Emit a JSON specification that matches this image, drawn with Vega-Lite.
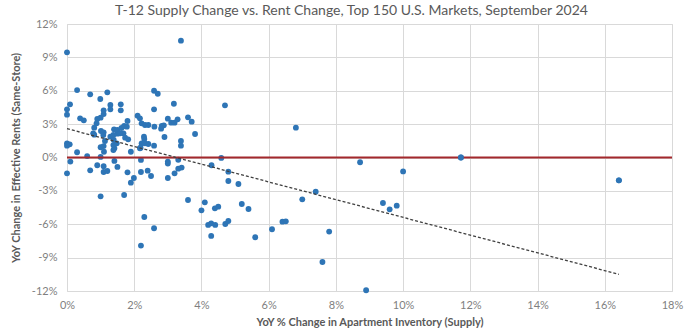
{
  "$schema": "https://vega.github.io/schema/vega-lite/v6.json",
  "autosize": "none",
  "width": 605,
  "height": 267,
  "padding": {"left": 67, "top": 24, "right": 28, "bottom": 40},
  "background": "white",
  "title": {
    "text": "T-12 Supply Change vs. Rent Change, Top 150 U.S. Markets, September 2024",
    "font": "Lato",
    "fontSize": 14,
    "fontWeight": "normal",
    "color": "#595959",
    "anchor": "middle",
    "dx": -18,
    "offset": 0
  },
  "config": {
    "view": {"stroke": "#d9d9d9"},
    "axis": {
      "labelFont": "Lato",
      "labelFontSize": 11,
      "labelColor": "#7f7f7f",
      "labelOverlap": false,
      "labelFlush": false,
      "titleFont": "Lato",
      "titleFontSize": 11,
      "titleFontWeight": "bold",
      "titleColor": "#595959",
      "gridColor": "#d9d9d9",
      "gridWidth": 1,
      "domain": false,
      "ticks": false
    },
    "axisY": {"labelOverlap": false, "labelPadding": 10, "titlePadding": 10},
    "axisX": {"labelOverlap": false, "labelPadding": 8, "titlePadding": 6}
  },
  "datasets": {
    "pts": [
      {"supply": 0, "rent": 9.45}, {"supply": 0, "rent": 4.33}, {"supply": 0.09, "rent": 4.78}, {"supply": 0, "rent": 3.85},
      {"supply": 0, "rent": 1.27}, {"supply": 0.08, "rent": 1.18}, {"supply": 0, "rent": 1.06}, {"supply": 0.1, "rent": -0.37},
      {"supply": 0, "rent": -1.42},
      {"supply": 0.3, "rent": 6.06}, {"supply": 0.69, "rent": 5.68}, {"supply": 0.99, "rent": 5.26}, {"supply": 1.2, "rent": 5.86},
      {"supply": 0.39, "rent": 3.52}, {"supply": 0.5, "rent": 3.34}, {"supply": 0.3, "rent": 0.47}, {"supply": 0.6, "rent": 0.13},
      {"supply": 0.69, "rent": -1.15}, {"supply": 0.9, "rent": -0.7}, {"supply": 0.88, "rent": 3.07}, {"supply": 0.81, "rent": 2.68},
      {"supply": 0.9, "rent": 3.46}, {"supply": 1.0, "rent": 3.58}, {"supply": 1.09, "rent": 3.9}, {"supply": 0.78, "rent": 2.17},
      {"supply": 0.81, "rent": 2.05}, {"supply": 1.0, "rent": 0.92}, {"supply": 1.09, "rent": 1.03}, {"supply": 1.1, "rent": 0.52},
      {"supply": 1.0, "rent": 0.05}, {"supply": 1.0, "rent": -3.49},
      {"supply": 1.09, "rent": 4.24}, {"supply": 1.29, "rent": 4.72}, {"supply": 1.29, "rent": 4.33}, {"supply": 1.6, "rent": 4.78},
      {"supply": 1.6, "rent": 4.24}, {"supply": 1.01, "rent": 2.38}, {"supply": 1.09, "rent": 2.26}, {"supply": 1.08, "rent": 2.02},
      {"supply": 1.29, "rent": 1.87}, {"supply": 1.4, "rent": 2.53}, {"supply": 1.5, "rent": 2.14}, {"supply": 1.5, "rent": 2.47},
      {"supply": 1.68, "rent": 2.17}, {"supply": 1.62, "rent": 2.65}, {"supply": 1.7, "rent": 2.83}, {"supply": 1.8, "rent": 3.28},
      {"supply": 1.73, "rent": 1.78}, {"supply": 1.82, "rent": 1.63}, {"supply": 1.39, "rent": 1.57}, {"supply": 1.48, "rent": 1.27},
      {"supply": 1.41, "rent": 0.83}, {"supply": 1.9, "rent": 0.52}, {"supply": 1.09, "rent": -0.79}, {"supply": 1.09, "rent": -1.3},
      {"supply": 1.2, "rent": -1.21}, {"supply": 1.41, "rent": -0.31}, {"supply": 1.5, "rent": -0.85}, {"supply": 1.7, "rent": -3.37},
      {"supply": 1.8, "rent": -1.33}, {"supply": 1.99, "rent": -1.84}, {"supply": 1.9, "rent": -2.26},
      {"supply": 1.13, "rent": 1.48}, {"supply": 1.38, "rent": 1.12}, {"supply": 1.38, "rent": 2.02}, {"supply": 1.58, "rent": 2.17},
      {"supply": 1.78, "rent": 2.77}, {"supply": 1.38, "rent": 0.67}, {"supply": 2.17, "rent": 0.83}, {"supply": 2.22, "rent": 1.27},
      {"supply": 2.1, "rent": 3.76}, {"supply": 2.17, "rent": 3.52}, {"supply": 2.22, "rent": 3.07}, {"supply": 2.32, "rent": 2.92},
      {"supply": 2.42, "rent": 2.92}, {"supply": 2.59, "rent": 6.0}, {"supply": 2.7, "rent": 5.73}, {"supply": 2.59, "rent": 4.33},
      {"supply": 2.6, "rent": 2.77}, {"supply": 2.82, "rent": 2.83}, {"supply": 2.88, "rent": 2.89}, {"supply": 2.8, "rent": 2.59},
      {"supply": 3.0, "rent": 3.49}, {"supply": 3.18, "rent": 4.83}, {"supply": 3.1, "rent": 3.13}, {"supply": 3.2, "rent": 3.13},
      {"supply": 3.29, "rent": 3.43}, {"supply": 2.9, "rent": 1.84}, {"supply": 2.29, "rent": 1.87}, {"supply": 2.3, "rent": 1.66},
      {"supply": 2.32, "rent": 1.27}, {"supply": 2.42, "rent": 1.21}, {"supply": 2.59, "rent": 1.06}, {"supply": 2.19, "rent": 0.88},
      {"supply": 3.39, "rent": 1.48}, {"supply": 3.39, "rent": 1.06}, {"supply": 3.6, "rent": 3.61}, {"supply": 3.71, "rent": 3.22},
      {"supply": 3.81, "rent": 2.11}, {"supply": 2.2, "rent": -0.22}, {"supply": 2.2, "rent": -1.3}, {"supply": 2.4, "rent": -1.18},
      {"supply": 2.5, "rent": -1.66}, {"supply": 2.2, "rent": -7.92}, {"supply": 2.3, "rent": -5.35}, {"supply": 2.59, "rent": -6.36},
      {"supply": 3.0, "rent": -1.84}, {"supply": 3.0, "rent": -0.37}, {"supply": 3.0, "rent": -0.55}, {"supply": 3.2, "rent": -1.42},
      {"supply": 3.31, "rent": -1.0}, {"supply": 3.41, "rent": -0.91}, {"supply": 3.31, "rent": -0.2}, {"supply": 3.6, "rent": -3.82},
      {"supply": 4.0, "rent": -4.75}, {"supply": 4.1, "rent": -4.03}, {"supply": 4.2, "rent": -6.06}, {"supply": 4.29, "rent": -5.92},
      {"supply": 4.41, "rent": -6.06}, {"supply": 4.29, "rent": -7.05}, {"supply": 4.4, "rent": -4.57}, {"supply": 4.5, "rent": -4.42},
      {"supply": 4.71, "rent": -5.98}, {"supply": 4.8, "rent": -5.71}, {"supply": 4.8, "rent": -2.11}, {"supply": 4.8, "rent": -1.27},
      {"supply": 5.1, "rent": -2.38}, {"supply": 5.2, "rent": -4.18}, {"supply": 5.4, "rent": -4.63}, {"supply": 5.6, "rent": -7.17},
      {"supply": 6.1, "rent": -6.45}, {"supply": 6.41, "rent": -5.77}, {"supply": 6.51, "rent": -5.74}, {"supply": 7.0, "rent": -3.76},
      {"supply": 7.4, "rent": -3.07}, {"supply": 7.8, "rent": -6.66}, {"supply": 7.6, "rent": -9.39}, {"supply": 4.3, "rent": -0.7},
      {"supply": 4.59, "rent": -0.04}, {"supply": 4.7, "rent": 4.69}, {"supply": 6.81, "rent": 2.68}, {"supply": 3.39, "rent": 10.5},
      {"supply": 8.72, "rent": -0.43}, {"supply": 11.72, "rent": 0}, {"supply": 10.0, "rent": -1.25}, {"supply": 16.42, "rent": -2.05},
      {"supply": 9.4, "rent": -4.09}, {"supply": 9.6, "rent": -4.66}, {"supply": 9.81, "rent": -4.33}, {"supply": 8.9, "rent": -11.93}
    ],
    "trend": [
      {"supply": 0, "rent": 2.59},
      {"supply": 16.42, "rent": -10.5}
    ],
    "zero": [{"rent": 0}]
  },
  "encoding": {
    "x": {
      "field": "supply", "type": "quantitative",
      "scale": {"domain": [0, 18], "nice": false, "padding": 0},
      "axis": {"values": [0, 2, 4, 6, 8, 10, 12, 14, 16, 18], "labelExpr": "datum.value + '%'", "title": "YoY % Change in Apartment Inventory (Supply)", "grid": true}
    },
    "y": {
      "field": "rent", "type": "quantitative",
      "scale": {"domain": [-12, 12], "nice": false, "padding": 0},
      "axis": {"values": [-12, -9, -6, -3, 0, 3, 6, 9, 12], "labelExpr": "datum.value + '%'", "title": "YoY Change in Effective Rents (Same-Store)", "grid": true}
    }
  },
  "layer": [
    {
      "data": {"name": "pts"},
      "mark": {"type": "point", "filled": true, "shape": "circle", "size": 34, "color": "#2E75B6", "opacity": 1}
    },
    {
      "data": {"name": "zero"},
      "mark": {"type": "rule", "color": "#A3282C", "strokeWidth": 2},
      "encoding": {"x": null}
    },
    {
      "data": {"name": "pts"},
      "transform": [{"filter": "datum.supply > 11"}],
      "mark": {"type": "point", "filled": true, "shape": "circle", "size": 34, "color": "#2E75B6", "opacity": 1}
    },
    {
      "data": {"name": "trend"},
      "mark": {"type": "line", "color": "#404040", "strokeWidth": 1.3, "strokeDash": [3, 2]}
    }
  ]
}
